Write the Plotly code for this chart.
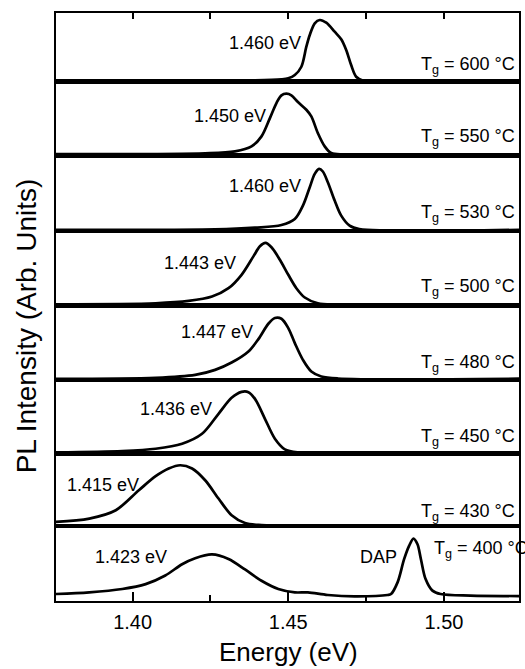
import plotly.graph_objects as go

# ---------------- data (energy in eV, PL intensity in arb. units, per panel) -------------
growth_temps = ["600", "550", "530", "500", "480", "450", "430", "400"]
peak_labels = ["1.460 eV", "1.450 eV", "1.460 eV", "1.443 eV", "1.447 eV", "1.436 eV", "1.415 eV", "1.423 eV"]
x_ticks = [1.40, 1.45, 1.50]
x_tick_text = ["1.40", "1.45", "1.50"]

energy_600 = [1.375, 1.4393, 1.4478, 1.4500, 1.4521, 1.4542, 1.4558, 1.4569, 1.4585, 1.4601,
              1.4622, 1.4649, 1.4670, 1.4686, 1.4702, 1.4718, 1.4739, 1.4776, 1.525]
pl_600 = [0.012, 0.018, 0.032, 0.047, 0.095, 0.216, 0.508, 0.679, 0.850, 0.898,
          0.858, 0.727, 0.616, 0.460, 0.240, 0.070, 0.016, 0.012, 0.012]

energy_550 = [1.375, 1.4233, 1.4329, 1.4382, 1.4414, 1.4441, 1.4462, 1.4478, 1.4494, 1.4510,
              1.4531, 1.4558, 1.4574, 1.4595, 1.4617, 1.4638, 1.4681, 1.525]
pl_550 = [0.018, 0.027, 0.054, 0.122, 0.257, 0.505, 0.709, 0.813, 0.835, 0.813,
          0.722, 0.618, 0.528, 0.302, 0.122, 0.031, 0.012, 0.012]

energy_530 = [1.375, 1.4265, 1.4393, 1.4478, 1.4521, 1.4547, 1.4569, 1.4585, 1.4599, 1.4611,
              1.4627, 1.4649, 1.4670, 1.4697, 1.4728, 1.525]
pl_530 = [0.018, 0.022, 0.045, 0.080, 0.160, 0.336, 0.580, 0.756, 0.822, 0.787,
          0.646, 0.403, 0.204, 0.072, 0.027, 0.018]

energy_500 = [1.375, 1.4074, 1.4180, 1.4255, 1.4308, 1.4350, 1.4388, 1.4409, 1.4427, 1.4446,
              1.4473, 1.4500, 1.4526, 1.4553, 1.4595, 1.4659, 1.525]
pl_500 = [0.019, 0.032, 0.063, 0.122, 0.234, 0.414, 0.661, 0.796, 0.841, 0.783,
          0.616, 0.414, 0.234, 0.109, 0.032, 0.015, 0.015]

energy_480 = [1.375, 1.4074, 1.4201, 1.4265, 1.4318, 1.4372, 1.4404, 1.4436, 1.4457, 1.4478,
              1.4500, 1.4521, 1.4547, 1.4574, 1.4606, 1.4659, 1.525]
pl_480 = [0.014, 0.027, 0.067, 0.135, 0.234, 0.383, 0.549, 0.756, 0.833, 0.823,
          0.698, 0.495, 0.270, 0.113, 0.046, 0.019, 0.016]

energy_450 = [1.375, 1.3967, 1.4074, 1.4159, 1.4223, 1.4276, 1.4318, 1.4350, 1.4372, 1.4393,
              1.4425, 1.4457, 1.4489, 1.4531, 1.525]
pl_450 = [0.015, 0.033, 0.064, 0.132, 0.267, 0.539, 0.756, 0.837, 0.833, 0.742,
          0.471, 0.200, 0.056, 0.015, 0.012]

energy_430 = [1.375, 1.3861, 1.3946, 1.4020, 1.4074, 1.4116, 1.4153, 1.4191, 1.4233, 1.4276,
              1.4318, 1.4361, 1.4414, 1.525]
pl_430 = [0.055, 0.102, 0.217, 0.492, 0.686, 0.792, 0.837, 0.792, 0.630, 0.378,
          0.148, 0.041, 0.012, 0.010]

energy_400 = [1.375, 1.3861, 1.3967, 1.4042, 1.4105, 1.4159, 1.4201, 1.4255, 1.4308, 1.4361,
              1.4414, 1.4468, 1.4521, 1.4563, 1.4627, 1.4713, 1.4819, 1.4830, 1.4851, 1.4872,
              1.4888, 1.4902, 1.4915, 1.4926, 1.4941, 1.4963, 1.4989, 1.5085, 1.525]
pl_400 = [0.093, 0.115, 0.160, 0.225, 0.340, 0.490, 0.570, 0.620, 0.560, 0.420,
          0.270, 0.160, 0.115, 0.115, 0.080, 0.062, 0.080, 0.093, 0.248, 0.557,
          0.735, 0.832, 0.756, 0.557, 0.292, 0.138, 0.093, 0.072, 0.066]

energies = [energy_600, energy_550, energy_530, energy_500, energy_480, energy_450, energy_430, energy_400]
intensities = [pl_600, pl_550, pl_530, pl_500, pl_480, pl_450, pl_430, pl_400]

# ---------------- layout geometry -------------
W, H = 525, 669
plot_left, plot_right = 56, 521.5
plot_top, plot_bottom = 13, 600.7
boundaries = [13, 81.5, 155.3, 231, 305.5, 379.7, 453.2, 525.7, 600.7]
plot_h = plot_bottom - plot_top
plot_w = plot_right - plot_left
x_range = [1.3754, 1.5241]

FONT = "Arial, Liberation Sans, Helvetica, sans-serif"

# label positions (in data coords of each panel)
peak_label_x = [1.4547, 1.4436, 1.4547, 1.4340, 1.4393, 1.4260, 1.4026, 1.4116]
peak_label_y = [0.56, 0.53, 0.60, 0.57, 0.65, 0.61, 0.56, 0.58]
tg_label_x = 1.4920
tg_label_y = [0.23, 0.24, 0.23, 0.24, 0.22, 0.21, 0.19, 0.69]

fig = go.Figure()
annotations = []
layout_axes = {}
for i in range(8):
    n = i + 1
    xa = "x" if n == 1 else f"x{n}"
    ya = "y" if n == 1 else f"y{n}"
    fig.add_trace(go.Scatter(
        x=energies[i], y=intensities[i], xaxis=xa, yaxis=ya, mode="lines",
        line=dict(color="black", width=2.7, shape="spline", smoothing=0.9),
        showlegend=False, hoverinfo="skip"))
    d0 = (plot_bottom - boundaries[i + 1]) / plot_h
    d1 = (plot_bottom - boundaries[i]) / plot_h
    xkey = "xaxis" if n == 1 else f"xaxis{n}"
    ykey = "yaxis" if n == 1 else f"yaxis{n}"
    xaxis = dict(range=x_range, anchor=ya, showline=True, linecolor="black", linewidth=2.2,
                 mirror=True, showgrid=False, zeroline=False, tickvals=x_ticks,
                 ticktext=x_tick_text, showticklabels=False, ticks="")
    if n != 1:
        xaxis["matches"] = "x"
    if n == 1:
        xaxis.update(side="top", ticks="inside", ticklen=6, tickwidth=2, tickcolor="black",
                     minor=dict(tickvals=[1.425, 1.475], ticks="inside", ticklen=6,
                                tickwidth=2, tickcolor="black"))
    if n == 8:
        xaxis.update(side="bottom", ticks="inside", ticklen=9, tickwidth=2, tickcolor="black",
                     showticklabels=True, ticklabelstandoff=2,
                     tickfont=dict(family=FONT, size=20, color="black"),
                     minor=dict(tickvals=[1.425, 1.475], ticks="inside", ticklen=6,
                                tickwidth=2, tickcolor="black"))
    layout_axes[xkey] = xaxis
    layout_axes[ykey] = dict(domain=[d0, d1], range=[0, 1], anchor=xa, showline=True,
                             linecolor="black", linewidth=2.2, mirror=True, showgrid=False,
                             zeroline=False, showticklabels=False, ticks="", fixedrange=True)
    annotations.append(dict(xref=xa, yref=ya, x=peak_label_x[i], y=peak_label_y[i],
                            text=peak_labels[i], showarrow=False, xanchor="right",
                            yanchor="middle", font=dict(family=FONT, size=18, color="black")))
    annotations.append(dict(xref=xa, yref=ya, x=tg_label_x if n != 8 else 1.4963,
                            y=tg_label_y[i],
                            text=f"T<sub>g</sub> = {growth_temps[i]} °C", showarrow=False,
                            xanchor="left", yanchor="middle",
                            font=dict(family=FONT, size=18, color="black")))

annotations.append(dict(xref="x8", yref="y8", x=1.4856, y=0.58, text="DAP", showarrow=False,
                        xanchor="right", yanchor="middle",
                        font=dict(family=FONT, size=18, color="black")))
# axis titles
annotations.append(dict(xref="paper", yref="paper", x=(26 - plot_left) / plot_w,
                        y=(plot_bottom - 326) / plot_h, text="PL Intensity (Arb. Units)",
                        textangle=-90, showarrow=False, xanchor="center", yanchor="middle",
                        font=dict(family=FONT, size=28, color="black")))
annotations.append(dict(xref="paper", yref="paper", x=(290 - plot_left) / plot_w,
                        y=(plot_bottom - 652) / plot_h, text="Energy (eV)",
                        showarrow=False, xanchor="center", yanchor="middle",
                        font=dict(family=FONT, size=26, color="black")))

fig.update_layout(
    width=W, height=H,
    margin=dict(l=plot_left, r=W - plot_right, t=plot_top, b=H - plot_bottom, pad=0),
    paper_bgcolor="white", plot_bgcolor="white",
    annotations=annotations,
    **layout_axes,
)

fig.write_html("out.html", config={"displayModeBar": False, "staticPlot": True},
               post_script="document.body.style.margin='0px';document.body.style.overflow='hidden';")
